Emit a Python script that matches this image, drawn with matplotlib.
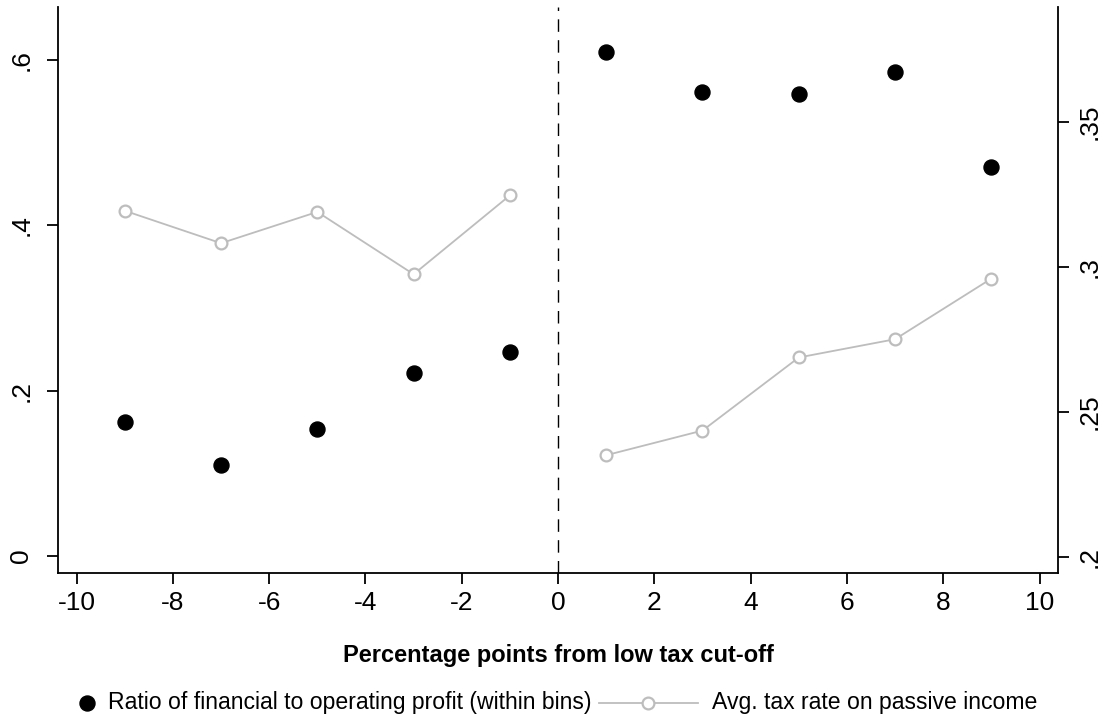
import matplotlib
matplotlib.use("Agg")
import matplotlib.pyplot as plt
from matplotlib.lines import Line2D

plt.rcParams['font.family'] = ['Liberation Sans', 'DejaVu Sans']

# ---- data ----
bins = [-9, -7, -5, -3, -1, 1, 3, 5, 7, 9]
ratio_fin_op = [0.162, 0.110, 0.153, 0.221, 0.247, 0.610, 0.561, 0.559, 0.585, 0.471]
bins_left = [-9, -7, -5, -3, -1]
tax_left = [0.3194, 0.3082, 0.3190, 0.2975, 0.3247]
bins_right = [1, 3, 5, 7, 9]
tax_right = [0.2351, 0.2436, 0.2688, 0.2751, 0.2960]

xticks = [-10, -8, -6, -4, -2, 0, 2, 4, 6, 8, 10]
xticklabels = ["-10", "-8", "-6", "-4", "-2", "0", "2", "4", "6", "8", "10"]
lticks = [0, 0.2, 0.4, 0.6]
lticklabels = ["0", ".2", ".4", ".6"]
rticks = [0.2, 0.25, 0.3, 0.35]
rticklabels = [".2", ".25", ".3", ".35"]

xlabel = "Percentage points from low tax cut-off"
leg1 = "Ratio of financial to operating profit (within bins)"
leg2 = "Avg. tax rate on passive income"

GREY = "#bdbdbd"
W, H = 1104, 724
fig = plt.figure(figsize=(W / 100, H / 100), dpi=100)
L, R, T, B = 58.3, 1058.3, 6.7, 573.0
ax = fig.add_axes([L / W, 1 - B / H, (R - L) / W, (B - T) / H])
ax2 = ax.twinx()

ax.set_xlim(-10.38, 10.39)
ax.set_ylim(-0.0209, 0.6646)
ax2.set_ylim(0.19448, 0.38976)

ax.axvline(0, color="black", lw=1.0, dashes=(9, 6))
ax.plot(bins, ratio_fin_op, 'o', color="black", ms=10.8, mec="black", zorder=5)
for xs, ys in [(bins_left, tax_left), (bins_right, tax_right)]:
    ax2.plot(xs, ys, '-o', color=GREY, lw=1.3, ms=8.5, mfc="white", mec=GREY, mew=1.6)

for a in (ax, ax2):
    a.spines['top'].set_visible(False)
    for s in ('left', 'right', 'bottom'):
        a.spines[s].set_linewidth(1.3)
ax.spines['right'].set_visible(False)
ax2.spines['left'].set_visible(False)
ax2.spines['bottom'].set_visible(False)

ax.set_xticks(xticks)
ax.set_xticklabels(xticklabels, fontsize=19)
ax.set_yticks(lticks)
ax.set_yticklabels(lticklabels, fontsize=19, rotation=90, va='center')
ax2.set_yticks(rticks)
ax2.set_yticklabels(rticklabels, fontsize=19, rotation=90, va='center')
ax.tick_params(axis='x', length=8, width=1.3, pad=5)
ax.tick_params(axis='y', length=8, width=1.3, pad=10)
ax2.tick_params(axis='y', length=8, width=1.3, pad=6)

ax.set_xlabel(xlabel, fontsize=17, fontweight='bold', labelpad=21)

# ---- legend (Stata style, laid out in pixels) ----
fig.canvas.draw()
rend = fig.canvas.get_renderer()
fs_leg = 16.6
ycen = 1 - 703 / H
t1 = fig.text(0, ycen, leg1, fontsize=fs_leg, va='center', ha='left')
t2 = fig.text(0, ycen, leg2, fontsize=fs_leg, va='center', ha='left')
w1 = t1.get_window_extent(rend).width
w2 = t2.get_window_extent(rend).width
dot_w, gap_key, gap_col, line_w = 15, 14, 7, 99
total = dot_w + gap_key + w1 + gap_col + line_w + gap_key + w2
x0 = (L + R) / 2 - total / 2
xd = x0 + dot_w / 2
fig.add_artist(Line2D([xd / W], [ycen], marker='o', color='black', ms=10.8, ls='none'))
xt1 = x0 + dot_w + gap_key
t1.set_x(xt1 / W)
xl0 = xt1 + w1 + gap_col
xl1 = xl0 + line_w
fig.add_artist(Line2D([xl0 / W, xl1 / W], [ycen, ycen], color=GREY, lw=1.3))
fig.add_artist(Line2D([(xl0 + xl1) / 2 / W], [ycen], marker='o', color=GREY, ms=8.5,
                      mfc='white', mec=GREY, mew=1.6, ls='none'))
t2.set_x((xl1 + gap_key) / W)

fig.savefig("out.png", dpi=100, facecolor="white")
